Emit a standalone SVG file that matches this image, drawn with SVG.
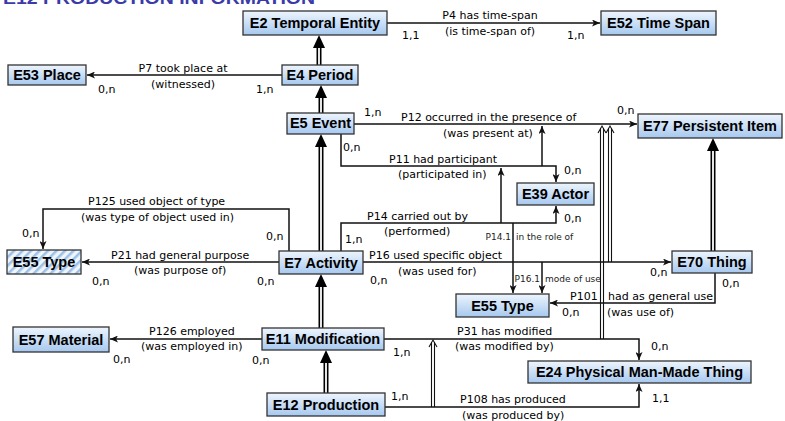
<svg xmlns="http://www.w3.org/2000/svg" width="785" height="421" viewBox="0 0 785 421">
<defs>
<linearGradient id="g" x1="0" y1="0" x2="0" y2="1">
<stop offset="0" stop-color="#eef5fd"/>
<stop offset="1" stop-color="#a6c8ef"/>
</linearGradient>
<pattern id="hatch" width="6" height="6" patternUnits="userSpaceOnUse" patternTransform="rotate(45)">
<rect width="6" height="6" fill="#eef5fc"/>
<rect width="2.5" height="6" fill="#9cc0e6"/>
</pattern>
<marker id="arr" markerWidth="8" markerHeight="7" refX="8" refY="3.5" orient="auto" markerUnits="userSpaceOnUse">
<path d="M0,0 L8,3.5 L0,7 L2,3.5 z" fill="#111"/>
</marker>
<style>
.box{fill:url(#g);stroke:#333;stroke-width:1.3}
.hbox{fill:url(#hatch);stroke:#333;stroke-width:1.3}
.nt{font-family:"Liberation Sans",Arial,sans-serif;font-weight:bold;font-size:14.5px;fill:#000;text-anchor:middle}
.lb{font-family:"DejaVu Sans",Verdana,sans-serif;font-size:11px;fill:#000}
.sm{font-family:"DejaVu Sans",Verdana,sans-serif;font-size:9px;fill:#222}
.ln{fill:none;stroke:#111;stroke-width:1.5}
.isab{fill:none;stroke:#000;stroke-width:5}
.isaw{fill:none;stroke:#fff;stroke-width:1.8}
.sub{fill:none;stroke:#111;stroke-width:1.1}
</style>
</defs>
<rect width="785" height="421" fill="#fff"/>
<text x="3" y="4" font-family="'Liberation Sans',Arial,sans-serif" font-weight="bold" font-size="17" fill="#3a3aa8" textLength="312" lengthAdjust="spacingAndGlyphs">E12 PRODUCTION INFORMATION</text>

<g id="connectors">
<path class="ln" d="M387,23 H600" marker-end="url(#arr)"/>
<path class="ln" d="M282,75 H87" marker-end="url(#arr)"/>
<path class="ln" d="M354,124 H637" marker-end="url(#arr)"/>
<path class="ln" d="M341,134 V166 H556 V182" marker-end="url(#arr)"/>
<path class="ln" d="M542,166 V126" marker-end="url(#arr)"/>
<path class="ln" d="M341,251 V223 H556 V206" marker-end="url(#arr)"/>
<path class="ln" d="M501,223 V168" marker-end="url(#arr)"/>
<path class="ln" d="M513,223 V293" stroke-width="1" marker-end="url(#arr)"/>
<path class="ln" d="M363,262 H671" marker-end="url(#arr)"/>
<path class="ln" d="M542,262 V293" stroke-width="1" marker-end="url(#arr)"/>
<path class="ln" d="M715,273 V303 H550" marker-end="url(#arr)"/>
<path class="ln" d="M289,251 V209 H43 V249" marker-end="url(#arr)"/>
<path class="ln" d="M279,262 H82" marker-end="url(#arr)"/>
<path class="ln" d="M262,339 H110" marker-end="url(#arr)"/>
<path class="ln" d="M384,339 H639 V360" marker-end="url(#arr)"/>
<path class="ln" d="M385,407 H639 V384" marker-end="url(#arr)"/>
<path class="sub" d="M600.5,339 V128 M603.5,339 V128 M598,133 L602,126 L606,133"/>
<path class="sub" d="M608.5,262 V128 M611.5,262 V128 M606,133 L610,126 L614,133"/>
<path class="sub" d="M431.5,407 V342 M434.5,407 V342 M429,347 L433,340 L437,347"/>
<path class="isab" d="M319,65 V47"/><path class="isaw" d="M319,65 V47"/><polygon points="313,48 325,48 319,35"/>
<path class="isab" d="M321,113 V97"/><path class="isaw" d="M321,113 V97"/><polygon points="315,98 327,98 321,85"/>
<path class="isab" d="M321,251 V146"/><path class="isaw" d="M321,251 V146"/><polygon points="315,147 327,147 321,134"/>
<path class="isab" d="M321,328 V286"/><path class="isaw" d="M321,328 V286"/><polygon points="315,287 327,287 321,274"/>
<path class="isab" d="M326,393 V362"/><path class="isaw" d="M326,393 V362"/><polygon points="320,363 332,363 326,350"/>
<path class="isab" d="M713,251 V150"/><path class="isaw" d="M713,251 V150"/><polygon points="707,151 719,151 713,138"/>
</g>

<g id="labels">
<text class="lb" x="490" y="19" text-anchor="middle">P4 has time-span</text>
<text class="lb" x="490" y="35" text-anchor="middle">(is time-span of)</text>
<text class="lb" x="402" y="39">1,1</text>
<text class="lb" x="567" y="39">1,n</text>
<text class="lb" x="183" y="72" text-anchor="middle">P7 took place at</text>
<text class="lb" x="183" y="88" text-anchor="middle">(witnessed)</text>
<text class="lb" x="98" y="93">0,n</text>
<text class="lb" x="256" y="93">1,n</text>
<text class="lb" x="401" y="121">P12 occurred in the presence of</text>
<text class="lb" x="443" y="137">(was present at)</text>
<text class="lb" x="364" y="116">1,n</text>
<text class="lb" x="617" y="114">0,n</text>
<text class="lb" x="389" y="163">P11 had participant</text>
<text class="lb" x="398" y="178">(participated in)</text>
<text class="lb" x="343" y="151">0,n</text>
<text class="lb" x="564" y="174">0,n</text>
<text class="lb" x="564" y="222">0,n</text>
<text class="lb" x="367" y="220">P14 carried out by</text>
<text class="lb" x="384" y="235">(performed)</text>
<text class="lb" x="345" y="243">1,n</text>
<text class="sm" x="511" y="240" text-anchor="end">P14.1</text>
<text class="sm" x="516" y="240">in the role of</text>
<text class="lb" x="369" y="259">P16 used specific object</text>
<text class="lb" x="398" y="275">(was used for)</text>
<text class="lb" x="370" y="284">0,n</text>
<text class="lb" x="650" y="276">0,n</text>
<text class="sm" x="540" y="282" text-anchor="end">P16.1</text>
<text class="sm" x="545" y="282">mode of use</text>
<text class="lb" x="570" y="300">P101</text>
<text class="lb" x="608" y="300">had as general use</text>
<text class="lb" x="607" y="316">(was use of)</text>
<text class="lb" x="722" y="287">0,n</text>
<text class="lb" x="562" y="316">0,n</text>
<text class="lb" x="88" y="205">P125 used object of type</text>
<text class="lb" x="81" y="221">(was type of object used in)</text>
<text class="lb" x="22" y="237">0,n</text>
<text class="lb" x="266" y="240">0,n</text>
<text class="lb" x="111" y="259">P21 had general purpose</text>
<text class="lb" x="134" y="274">(was purpose of)</text>
<text class="lb" x="92" y="285">0,n</text>
<text class="lb" x="257" y="285">0,n</text>
<text class="lb" x="149" y="335">P126 employed</text>
<text class="lb" x="141" y="350">(was employed in)</text>
<text class="lb" x="113" y="363">0,n</text>
<text class="lb" x="252" y="364">0,n</text>
<text class="lb" x="457" y="335">P31 has modified</text>
<text class="lb" x="455" y="350">(was modified by)</text>
<text class="lb" x="393" y="356">1,n</text>
<text class="lb" x="651" y="350">0,n</text>
<text class="lb" x="460" y="403">P108 has produced</text>
<text class="lb" x="462" y="419">(was produced by)</text>
<text class="lb" x="391" y="400">1,n</text>
<text class="lb" x="652" y="402">1,1</text>
</g>

<g id="E2"><rect class="box" x="243" y="11" width="144" height="24"/><text class="nt" x="315" y="28">E2 Temporal Entity</text></g>
<g id="E52"><rect class="box" x="601" y="11" width="115" height="24"/><text class="nt" x="658.5" y="28">E52 Time Span</text></g>
<g id="E53"><rect class="box" x="8" y="65" width="78" height="20"/><text class="nt" x="47" y="80">E53 Place</text></g>
<g id="E4"><rect class="box" x="282" y="65" width="76" height="20"/><text class="nt" x="320" y="80">E4 Period</text></g>
<g id="E5"><rect class="box" x="287" y="113" width="67" height="21"/><text class="nt" x="320.5" y="128">E5 Event</text></g>
<g id="E77"><rect class="box" x="638" y="114" width="144" height="24"/><text class="nt" x="710" y="131">E77 Persistent Item</text></g>
<g id="E39"><rect class="box" x="517" y="183" width="77" height="22"/><text class="nt" x="555.5" y="199">E39 Actor</text></g>
<g id="E7"><rect class="box" x="279" y="251" width="84" height="23"/><text class="nt" x="321" y="268">E7 Activity</text></g>
<g id="E55a"><rect class="hbox" x="7" y="250" width="74" height="24"/><text class="nt" x="44" y="267">E55 Type</text></g>
<g id="E70"><rect class="box" x="672" y="251" width="80" height="22"/><text class="nt" x="712" y="267">E70 Thing</text></g>
<g id="E55b"><rect class="box" x="456" y="294" width="93" height="23"/><text class="nt" x="502.5" y="311">E55 Type</text></g>
<g id="E57"><rect class="box" x="13" y="327" width="96" height="25"/><text class="nt" x="61" y="345">E57 Material</text></g>
<g id="E11"><rect class="box" x="262" y="328" width="122" height="22"/><text class="nt" x="323" y="344">E11 Modification</text></g>
<g id="E24"><rect class="box" x="528" y="361" width="223" height="22"/><text class="nt" x="639.5" y="377">E24 Physical Man-Made Thing</text></g>
<g id="E12"><rect class="box" x="267" y="393" width="118" height="23"/><text class="nt" x="326" y="410">E12 Production</text></g>
</svg>
